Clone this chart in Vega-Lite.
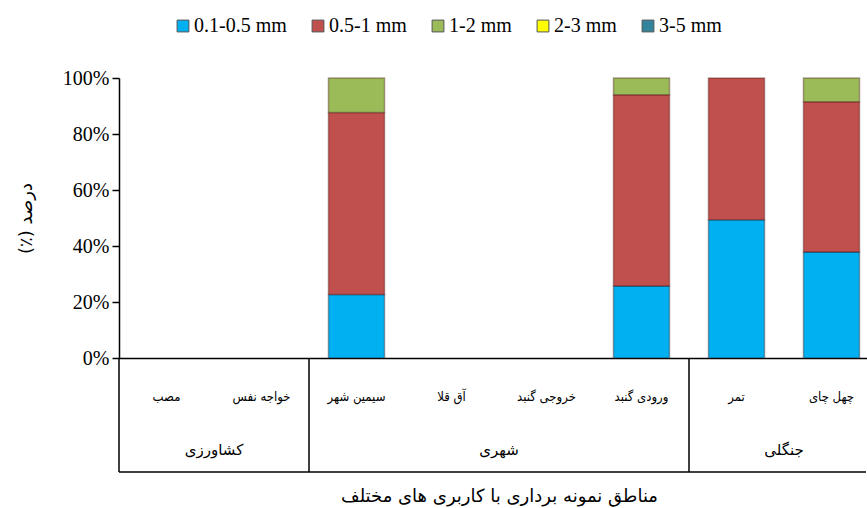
{
  "$schema": "https://vega.github.io/schema/vega-lite/v6.json",
  "autosize": {"type": "none"},
  "padding": {"left": 119, "top": 78, "right": 1, "bottom": 150},
  "width": 747,
  "height": 280,
  "background": "white",
  "config": {
    "view": {"stroke": null},
    "axis": {"grid": false, "domainColor": "black", "tickColor": "black", "labelColor": "black", "titleColor": "black", "domainWidth": 1.5, "tickWidth": 1.5},
    "legend": {
      "orient": "none", "legendX": 54, "legendY": -62, "direction": "horizontal",
      "symbolType": "square", "symbolSize": 140, "symbolStrokeWidth": 1, "symbolStrokeColor": "#555555",
      "labelFont": "Liberation Serif", "labelFontSize": 20, "labelColor": "black",
      "columnPadding": 21, "labelOffset": 1, "title": null
    }
  },
  "layer": [
    {
      "data": {"values": [
        {"site": "سیمین شهر", "size": "0.1-0.5 mm", "v": 0.227},
        {"site": "سیمین شهر", "size": "0.5-1 mm", "v": 0.650},
        {"site": "سیمین شهر", "size": "1-2 mm", "v": 0.123},
        {"site": "ورودی گنبد", "size": "0.1-0.5 mm", "v": 0.257},
        {"site": "ورودی گنبد", "size": "0.5-1 mm", "v": 0.683},
        {"site": "ورودی گنبد", "size": "1-2 mm", "v": 0.060},
        {"site": "تمر", "size": "0.1-0.5 mm", "v": 0.494},
        {"site": "تمر", "size": "0.5-1 mm", "v": 0.506},
        {"site": "چهل چای", "size": "0.1-0.5 mm", "v": 0.379},
        {"site": "چهل چای", "size": "0.5-1 mm", "v": 0.536},
        {"site": "چهل چای", "size": "1-2 mm", "v": 0.085}
      ]},
      "mark": {"type": "bar", "width": {"band": 0.59}, "strokeWidth": 1.5, "stroke": "#3a0000", "strokeOpacity": 0.35},
      "encoding": {
        "x": {
          "field": "site", "type": "nominal",
          "scale": {"domain": ["مصب", "خواجه نفس", "سیمین شهر", "آق قلا", "خروجی گنبد", "ورودی گنبد", "تمر", "چهل چای"], "range": [0, 760], "paddingInner": 0, "paddingOuter": 0},
          "title": "مناطق نمونه برداری با کاربری های مختلف",
          "axis": {"labelAngle": 0, "ticks": false, "tickSize": 0, "labelPadding": 38, "labelBaseline": "middle", "labelFont": "DejaVu Sans Condensed, DejaVu Sans", "labelFontSize": 13, "titleFont": "DejaVu Sans", "titleFontSize": 18, "titleFontWeight": "normal", "titlePadding": 84}
        },
        "y": {
          "field": "v", "type": "quantitative", "stack": "zero",
          "scale": {"domain": [0, 1], "nice": false},
          "title": "(٪)  درصد",
          "axis": {"values": [0, 0.2, 0.4, 0.6, 0.8, 1], "format": ".0%", "labelFont": "Liberation Serif", "labelFontSize": 20, "tickSize": 7, "labelPadding": 3, "titleFont": "DejaVu Sans", "titleFontSize": 18, "titleFontWeight": "normal", "titlePadding": 27}
        },
        "color": {
          "field": "size", "type": "nominal",
          "scale": {"domain": ["0.1-0.5 mm", "0.5-1 mm", "1-2 mm", "2-3 mm", "3-5 mm"], "range": ["#00B0F0", "#C0504D", "#9BBB59", "#FFFF00", "#31849B"]}
        },
        "order": {"field": "size", "sort": "ascending"}
      }
    },
    {
      "data": {"values": [{"site": "مصب"}, {"site": "سیمین شهر"}, {"site": "تمر"}]},
      "mark": {"type": "rule", "color": "black", "strokeWidth": 1.5},
      "encoding": {
        "x": {
          "field": "site", "type": "nominal", "bandPosition": 0,
          "scale": {"domain": ["مصب", "خواجه نفس", "سیمین شهر", "آق قلا", "خروجی گنبد", "ورودی گنبد", "تمر", "چهل چای"], "range": [0, 760], "paddingInner": 0, "paddingOuter": 0},
          "title": "مناطق نمونه برداری با کاربری های مختلف"
        },
        "y": {"datum": 0},
        "y2": {"datum": -0.407}
      }
    },
    {
      "data": {"values": [{"line": "bottom"}]},
      "mark": {"type": "rule", "color": "black", "strokeWidth": 1.5},
      "encoding": {"y": {"datum": -0.407}}
    },
    {
      "data": {"values": [
        {"site": "مصب", "g": "کشاورزی"},
        {"site": "آق قلا", "g": "شهری"},
        {"site": "تمر", "g": "جنگلی"}
      ]},
      "mark": {"type": "text", "font": "DejaVu Sans", "fontSize": 15, "color": "black", "baseline": "middle", "align": "center"},
      "encoding": {
        "x": {
          "field": "site", "type": "nominal", "bandPosition": 1,
          "scale": {"domain": ["مصب", "خواجه نفس", "سیمین شهر", "آق قلا", "خروجی گنبد", "ورودی گنبد", "تمر", "چهل چای"], "range": [0, 760], "paddingInner": 0, "paddingOuter": 0},
          "title": "مناطق نمونه برداری با کاربری های مختلف"
        },
        "y": {"datum": -0.33},
        "text": {"field": "g"}
      }
    }
  ]
}
